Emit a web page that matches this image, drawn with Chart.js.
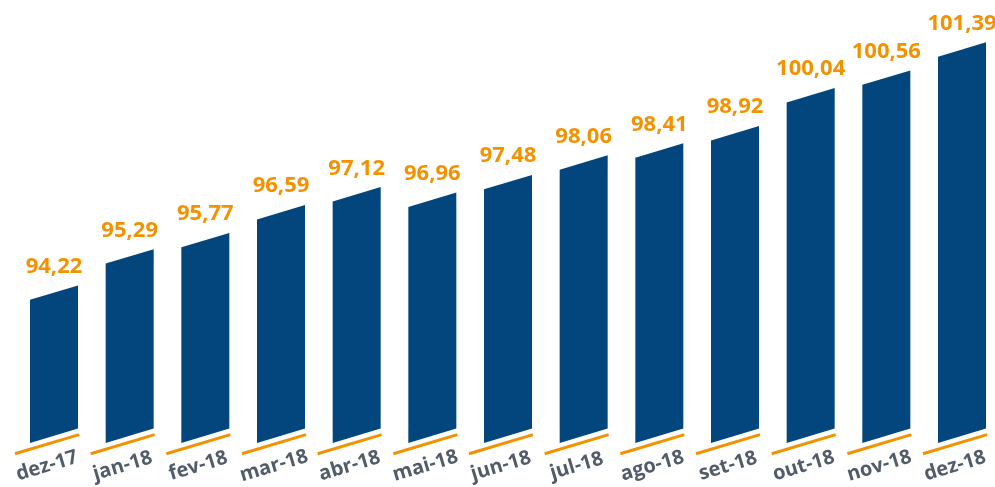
<!DOCTYPE html>
<html>
<head>
<meta charset="utf-8">
<script src="https://cdn.jsdelivr.net/npm/chart.js@4.4.0/dist/chart.umd.min.js"></script>
<style>
  html, body { margin: 0; padding: 0; background: #fff; }
</style>
</head>
<body>
<canvas id="grafico" width="995" height="487"></canvas>
<script>
const meses = ["dez-17", "jan-18", "fev-18", "mar-18", "abr-18", "mai-18", "jun-18",
               "jul-18", "ago-18", "set-18", "out-18", "nov-18", "dez-18"]
const valores = [94.22, 95.29, 95.77, 96.59, 97.12, 96.96, 97.48,
                 98.06, 98.41, 98.92, 100.04, 100.56, 101.39]

const AZUL = "#02467d"
const LARANJA = "#f39200"
const CINZA = "#525c68"
const INCLINA = 0.3 // inclinacao das barras (dy/dx)
const BASE = 90

function formata(v) {
    return v.toFixed(2).replace(".", ",")
}

// desenha as barras como paralelogramos, com o traco laranja e os rotulos
const barrasInclinadas = {
    id: "barrasInclinadas",
    beforeDatasetDraw() { return false },
    afterDatasetsDraw(chart) {
        let ctx = chart.ctx
        let meta = chart.getDatasetMeta(0)
        let base = chart.scales.y.getPixelForValue(BASE)
        let ang = Math.atan(INCLINA)
        meta.data.forEach((b, i) => {
            let l = b.x - b.width / 2
            let r = b.x + b.width / 2
            let d = (r - l) * INCLINA

            ctx.save()
            ctx.fillStyle = chart.data.datasets[0].backgroundColor
            ctx.beginPath()
            ctx.moveTo(l, base)
            ctx.lineTo(l, b.y)
            ctx.lineTo(r, b.y - d)
            ctx.lineTo(r, base - d)
            ctx.closePath()
            ctx.fill()

            // traco laranja
            ctx.strokeStyle = LARANJA
            ctx.lineWidth = 3
            ctx.beginPath()
            ctx.moveTo(l - 15, base + 6.3 + 15 * INCLINA)
            ctx.lineTo(r + 1, base + 6.3 - (r + 1 - l) * INCLINA)
            ctx.stroke()

            // valor
            ctx.fillStyle = LARANJA
            ctx.font = "bold 22px 'Open Sans'"
            ctx.textAlign = "center"
            ctx.textBaseline = "alphabetic"
            ctx.fillText(formata(valores[i]), b.x, b.y - 27)

            // mes
            ctx.translate(b.x - 7, base + 23)
            ctx.rotate(-ang)
            ctx.fillStyle = CINZA
            ctx.font = "bold 20px 'Open Sans'"
            ctx.textBaseline = "middle"
            ctx.fillText(meses[i], 0, 0)
            ctx.restore()
        })
    }
}

let ctx = document.getElementById("grafico").getContext("2d")
let grafico = new Chart(ctx, {
    type: "bar",
    data: {
        labels: meses,
        datasets: [{
            data: valores,
            base: BASE,
            backgroundColor: AZUL,
            barThickness: 48
        }]
    },
    options: {
        responsive: false,
        animation: false,
        layout: { padding: { left: 54, right: 33, top: 36, bottom: 44 } },
        plugins: {
            legend: { display: false },
            tooltip: { enabled: false }
        },
        scales: {
            x: { display: false, offset: false },
            y: { display: false, min: BASE, max: 102 }
        }
    },
    plugins: [barrasInclinadas]
});
</script>
</body>
</html>
